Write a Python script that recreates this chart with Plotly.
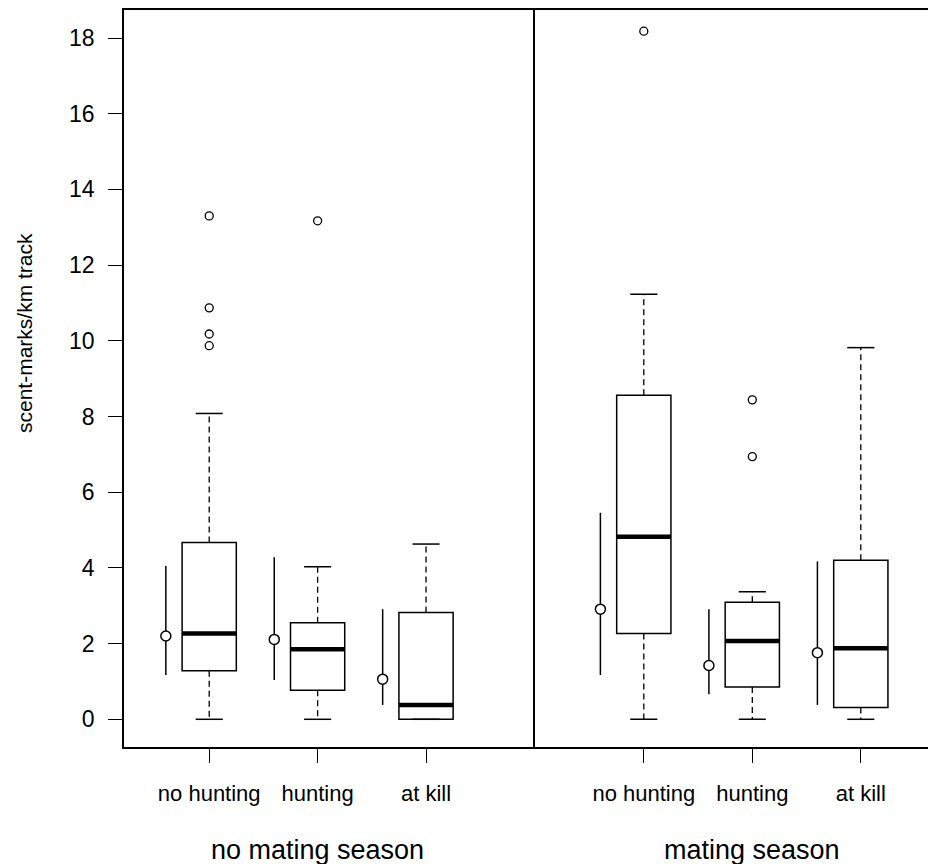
import plotly.graph_objects as go

# ---------------- data ----------------
categories = ["no hunting", "hunting", "at kill"]
positions = [1, 2, 3]
groups = ["no mating season", "mating season"]

# no mating season
nm_low = [0.0, 0.0, 0.0]
nm_q1 = [1.28, 0.77, 0.0]
nm_median = [2.27, 1.85, 0.38]
nm_q3 = [4.67, 2.55, 2.82]
nm_high = [8.08, 4.03, 4.63]
nm_outliers = [[13.30, 10.87, 10.18, 9.87], [13.17], []]
nm_mean = [2.20, 2.11, 1.06]
nm_ci_low = [1.17, 1.04, 0.38]
nm_ci_high = [4.05, 4.28, 2.91]

# mating season
m_low = [0.0, 0.0, 0.0]
m_q1 = [2.27, 0.85, 0.31]
m_median = [4.82, 2.07, 1.88]
m_q3 = [8.56, 3.09, 4.20]
m_high = [11.23, 3.37, 9.82]
m_outliers = [[18.18], [8.44, 6.94], []]
m_mean = [2.91, 1.42, 1.76]
m_ci_low = [1.17, 0.66, 0.38]
m_ci_high = [5.46, 2.91, 4.17]

y_ticks = [0, 2, 4, 6, 8, 10, 12, 14, 16, 18]
y_title = "scent-marks/km track"

# ---------------- style ----------------
FONT = "Liberation Sans, Arial, sans-serif"
BOX_HALF = 0.25
STAPLE_HALF = 0.125
SIDE_OFFSET = 0.4
LW = 1.5

fig = go.Figure()


def add_panel(xa, ya, low, q1, med, q3, high, outl, mean, cil, cih):
    # whiskers (dashed)
    wx, wy = [], []
    for p, lo, a, b, hi in zip(positions, low, q1, q3, high):
        wx += [p, p, None, p, p, None]
        wy += [b, hi, None, a, lo, None]
    fig.add_trace(go.Scatter(x=wx, y=wy, mode="lines", xaxis=xa, yaxis=ya,
                             line=dict(color="black", width=1.3, dash="6px,4px"),
                             hoverinfo="skip", showlegend=False))
    # staples
    sx, sy = [], []
    for p, lo, hi in zip(positions, low, high):
        sx += [p - STAPLE_HALF, p + STAPLE_HALF, None, p - STAPLE_HALF, p + STAPLE_HALF, None]
        sy += [lo, lo, None, hi, hi, None]
    fig.add_trace(go.Scatter(x=sx, y=sy, mode="lines", xaxis=xa, yaxis=ya,
                             line=dict(color="black", width=LW),
                             hoverinfo="skip", showlegend=False))
    # boxes
    fig.add_trace(go.Box(x=positions, q1=q1, median=med, q3=q3,
                         lowerfence=q1, upperfence=q3, width=2 * BOX_HALF,
                         whiskerwidth=0, boxpoints=False,
                         fillcolor="white", line=dict(color="black", width=LW),
                         xaxis=xa, yaxis=ya, showlegend=False))
    # thick medians
    mx, my = [], []
    for p, m in zip(positions, med):
        mx += [p - BOX_HALF, p + BOX_HALF, None]
        my += [m, m, None]
    fig.add_trace(go.Scatter(x=mx, y=my, mode="lines", xaxis=xa, yaxis=ya,
                             line=dict(color="black", width=4.5),
                             hoverinfo="skip", showlegend=False))
    # outliers
    ox, oy = [], []
    for p, vals in zip(positions, outl):
        for v in vals:
            ox.append(p)
            oy.append(v)
    fig.add_trace(go.Scatter(x=ox, y=oy, mode="markers", xaxis=xa, yaxis=ya,
                             marker=dict(symbol="circle-open", size=8, color="black",
                                         line=dict(width=1.3, color="black")),
                             showlegend=False))
    # side mean / interval lines
    cx, cy = [], []
    for p, a, b in zip(positions, cil, cih):
        cx += [p - SIDE_OFFSET, p - SIDE_OFFSET, None]
        cy += [a, b, None]
    fig.add_trace(go.Scatter(x=cx, y=cy, mode="lines", xaxis=xa, yaxis=ya,
                             line=dict(color="black", width=LW),
                             hoverinfo="skip", showlegend=False))
    fig.add_trace(go.Scatter(x=[p - SIDE_OFFSET for p in positions], y=mean,
                             mode="markers", xaxis=xa, yaxis=ya,
                             marker=dict(symbol="circle", size=10, color="white",
                                         line=dict(width=1.5, color="black")),
                             showlegend=False))


add_panel("x", "y", nm_low, nm_q1, nm_median, nm_q3, nm_high, nm_outliers,
          nm_mean, nm_ci_low, nm_ci_high)
add_panel("x2", "y2", m_low, m_q1, m_median, m_q3, m_high, m_outliers,
          m_mean, m_ci_low, m_ci_high)

# the page body adds an 8px offset, so the figure is 8px smaller
W, H = 928, 856
ML, MR, MT, MB = 116, 0, 2, 117
plot_w = W - ML - MR
plot_h = H - MT - MB
split = 411.3 / plot_w
y_range = [-0.732, 18.74]

xcommon = dict(tickvals=positions, ticktext=categories, ticks="outside",
               ticklen=14, tickwidth=1.3, tickcolor="black",
               tickfont=dict(family=FONT, size=22, color="black"),
               showline=True, linecolor="black", linewidth=LW, mirror=True,
               showgrid=False, zeroline=False, ticklabelstandoff=12)

fig.update_layout(
    width=W, height=H,
    margin=dict(l=ML, r=MR, t=MT, b=MB),
    paper_bgcolor="white", plot_bgcolor="white",
    showlegend=False,
    xaxis=dict(domain=[0, split], range=[0.214, 4.008], anchor="y", **xcommon),
    xaxis2=dict(domain=[split, 1], range=[0.0, 3.693], anchor="y2", **xcommon),
    yaxis=dict(range=y_range, tickvals=y_ticks, ticks="outside", ticklen=14,
               tickwidth=1.3, tickcolor="black",
               tickfont=dict(family=FONT, size=23, color="black"),
               showline=True, linecolor="black", linewidth=LW,
               showgrid=False, zeroline=False, anchor="x", ticklabelstandoff=9),
    yaxis2=dict(range=y_range, matches="y", showticklabels=False, ticks="",
                showline=True, linecolor="black", linewidth=LW,
                showgrid=False, zeroline=False, anchor="x2"),
)

# group labels under each panel
for xa, label in zip(["x", "x2"], groups):
    fig.add_annotation(text=label, x=2, xref=xa, y=-0.14, yref="paper",
                       showarrow=False, yanchor="middle",
                       font=dict(family=FONT, size=27, color="black"))
# y axis title
fig.add_annotation(text=y_title, textangle=-90, x=(16 - ML) / plot_w, xref="paper",
                   y=(739 - 325) / plot_h, yref="paper", showarrow=False,
                   xanchor="center", yanchor="middle",
                   font=dict(family=FONT, size=21, color="black"))

fig.write_html("out.html")
